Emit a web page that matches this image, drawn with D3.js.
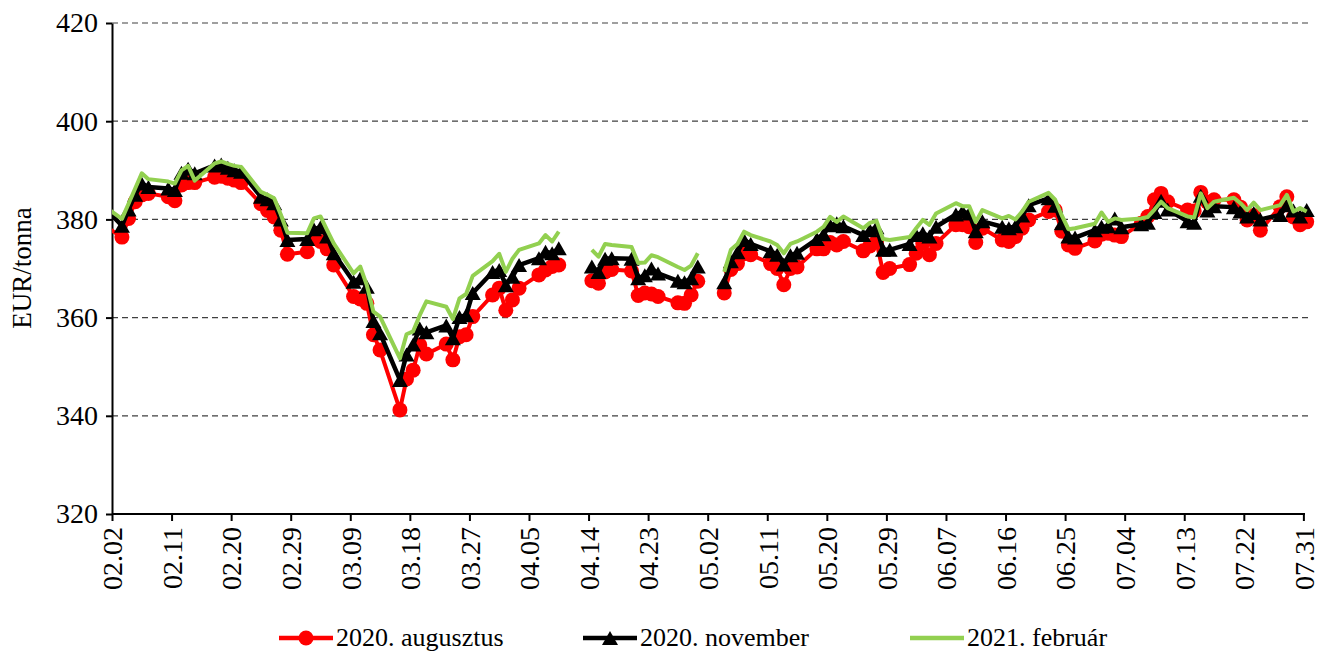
<!DOCTYPE html>
<html>
<head>
<meta charset="utf-8">
<script src="https://cdn.jsdelivr.net/npm/d3@7"></script>
<style>
  html, body { margin: 0; padding: 0; background: #fff; overflow: hidden; }
  text { font-family: "Liberation Serif", "Times New Roman", "DejaVu Serif", serif; fill: #000; }
</style>
</head>
<body>
<script>
'use strict';

// trading days (2020), holidays kept as empty cells so the lines break there
const dates = [
  '01.31',
  '02.03', '02.04', '02.05', '02.06', '02.07', '02.10', '02.11', '02.12', '02.13', '02.14',
  '02.17', '02.18', '02.19', '02.20', '02.21', '02.24', '02.25', '02.26', '02.27', '02.28',
  '03.02', '03.03', '03.04', '03.05', '03.06', '03.09', '03.10', '03.11', '03.12', '03.13',
  '03.16', '03.17', '03.18', '03.19', '03.20', '03.23', '03.24', '03.25', '03.26', '03.27',
  '03.30', '03.31',
  '04.01', '04.02', '04.03', '04.06', '04.07', '04.08', '04.09', '04.10', '04.13', '04.14',
  '04.15', '04.16', '04.17', '04.20', '04.21', '04.22', '04.23', '04.24', '04.27', '04.28',
  '04.29', '04.30',
  '05.01', '05.04', '05.05', '05.06', '05.07', '05.08', '05.11', '05.12', '05.13', '05.14',
  '05.15', '05.18', '05.19', '05.20', '05.21', '05.22', '05.25', '05.26', '05.27', '05.28',
  '05.29',
  '06.01', '06.02', '06.03', '06.04', '06.05', '06.08', '06.09', '06.10', '06.11', '06.12',
  '06.15', '06.16', '06.17', '06.18', '06.19', '06.22', '06.23', '06.24', '06.25', '06.26',
  '06.29', '06.30',
  '07.01', '07.02', '07.03', '07.06', '07.07', '07.08', '07.09', '07.10', '07.13', '07.14',
  '07.15', '07.16', '07.17', '07.20', '07.21', '07.22', '07.23', '07.24', '07.27', '07.28',
  '07.29', '07.30', '07.31'
];

// 2020. augusztus
const aug20 = [
  379.0,
  376.4, 380.2, 383.6, 385.0, 385.3, 384.6, 383.8, 387.0, 387.5, 387.5,
  388.6, 388.8, 388.4, 388.0, 387.5, 383.2, 381.8, 380.5, 377.8, 372.9,
  373.4, 376.3, 375.5, 374.0, 370.7, 364.3, 363.8, 362.9, 356.5, 353.4,
  341.2, 347.5, 349.3, 354.4, 352.6, 354.6, 351.4, 356.1, 356.5, 360.2,
  364.6, 366.0,
  361.5, 363.6, 366.0, 368.7, 369.7, 370.4, 370.7, null, null, 367.5,
  367.0, 369.3, 369.8, 369.5, 364.5, 365.0, 364.8, 364.3, 363.0, 362.9,
  364.6, 367.4,
  null, 365.0, 369.8, 371.0, 373.0, 372.8, 371.0, 370.0, 366.7, 370.0,
  370.3, 374.0, 374.0, 375.3, 374.8, 375.5, 373.6, 374.6, 375.5, 369.2,
  370.0,
  370.8, 373.1, 375.1, 372.8, 375.1, 378.9, 378.9, 378.5, 375.3, 378.2,
  375.8, 375.5, 376.5, 378.2, 379.9, 381.6, 381.9, 377.6, 374.8, 374.1,
  375.6, 377.0,
  377.2, 376.8, 376.5, 379.2, 380.6, 384.0, 385.3, 383.6, 381.9, 381.7,
  385.5, 383.5, 384.0, 384.0, 382.5, 379.9, 380.8, 377.8, 382.6, 384.6,
  380.5, 378.9, 379.5
];

// 2020. november
const nov20 = [
  383.0,
  378.7, 382.0, 385.0, 387.3, 386.6, 386.3, 386.0, 389.5, 390.3, 389.4,
  391.0, 391.2, 390.5, 390.0, 389.7, 384.6, 384.1, 383.3, 380.0, 375.8,
  376.0, 378.0, 378.4, 376.5, 373.1, 367.3, 368.0, 366.3, 359.3, 356.8,
  347.3, 352.5, 354.5, 357.8, 357.0, 358.4, 355.8, 360.1, 360.5, 365.0,
  369.3, 369.7,
  366.6, 368.3, 370.7, 372.1, 373.4, 373.1, 374.1, null, null, 370.4,
  369.3, 372.0, 372.1, 372.0, 368.0, 368.6, 370.0, 369.0, 367.5, 367.2,
  368.0, 370.4,
  null, 367.2, 371.5, 373.3, 375.8, 375.0, 373.5, 372.8, 370.8, 372.7,
  373.2, 376.0, 377.0, 378.8, 379.2, 378.6, 376.8, 377.8, 378.4, 373.8,
  373.8,
  375.0, 376.8, 377.2, 376.5, 378.5, 381.0, 381.6, 381.2, 377.6, 379.6,
  378.5, 378.2, 378.6, 380.8, 382.9, 384.3, 382.8, 379.2, 376.5, 376.3,
  377.8, 378.5,
  378.6, 380.2, 378.4, 379.0, 379.3, 381.5, 383.8, 382.0, 379.6, 379.3,
  384.8, 381.8, 382.7, 382.5, 381.6, 380.6, 381.3, 380.0, 380.9, 382.9,
  381.8, 380.6, 381.9
];

// 2021. február
const feb21 = [
  383.0,
  380.1, 383.2, 386.3, 389.4, 388.2, 387.7, 387.3, 390.0, 390.9, 387.9,
  391.4, 391.8, 391.3, 390.9, 390.7, 385.6, 385.0, 384.3, 381.0, 377.3,
  377.2, 380.2, 380.6, 377.8, 375.1, 369.0, 370.4, 366.6, 361.2, 360.2,
  351.7, 356.6, 357.2, 360.5, 363.3, 362.2, 359.7, 363.9, 364.8, 368.5,
  371.5, 373.0,
  369.3, 372.0, 373.8, 375.1, 376.8, 375.5, 377.5, null, null, 373.8,
  372.4, 375.0, 374.8, 374.4, 371.1, 371.2, 372.7, 372.3, 370.3, 369.7,
  370.6, 373.1,
  null, 369.3, 373.8, 375.0, 377.5, 376.8, 375.5, 374.8, 373.1, 375.0,
  375.5, 377.5, 378.5, 380.5, 379.5, 380.6, 378.2, 379.3, 379.7, 376.0,
  375.8,
  376.4, 378.2, 379.9, 378.9, 381.2, 383.3, 382.7, 382.7, 379.5, 381.9,
  380.2, 380.7, 380.0, 381.6, 383.6, 385.4, 384.0, 380.8, 378.0, 378.2,
  379.1, 381.4,
  379.5, 380.2, 379.9, 380.2, 380.5, 382.0, 383.6, 382.3, 380.6, 380.4,
  385.3, 382.3, 383.6, 384.4, 383.3, 381.9, 383.4, 381.9, 382.9, 385.0,
  381.6, 382.3, 381.6
];

const xTickLabels = ['02.02', '02.11', '02.20', '02.29', '03.09', '03.18', '03.27', '04.05',
  '04.14', '04.23', '05.02', '05.11', '05.20', '05.29', '06.07', '06.16', '06.25', '07.04',
  '07.13', '07.22', '07.31'];
const yTicks = [320, 340, 360, 380, 400, 420];

const seriesNames = ['2020. augusztus', '2020. november', '2021. február'];

const W = 1319, H = 654;
const plot = { left: 112, top: 23, right: 1310, bottom: 514 };
const serif = '"Liberation Serif", "Times New Roman", "DejaVu Serif", serif';

const parse = d3.timeParse('%Y.%m.%d');
const toDate = s => parse('2020.' + s);

const svg = d3.select('body').append('svg').attr('width', W).attr('height', H);

const x = d3.scaleTime()
    .domain([toDate('02.02'), toDate('08.01')])
    .range([plot.left, plot.right]);
const y = d3.scaleLinear().domain([320, 420]).range([plot.bottom, plot.top]);

// points sit in the middle of their day
const px = s => x(d3.timeHour.offset(toDate(s), 12));

// grid
svg.append('g').selectAll('line').data(yTicks.filter(v => v > 320)).enter().append('line')
    .attr('x1', plot.left).attr('x2', plot.right)
    .attr('y1', d => y(d)).attr('y2', d => y(d))
    .attr('stroke', '#404040').attr('stroke-width', 1.2).attr('stroke-dasharray', '6,4');

// y axis
const yAxis = svg.append('g').attr('transform', `translate(${plot.left},0)`)
    .call(d3.axisLeft(y).tickValues(yTicks).tickSize(6).tickSizeOuter(0).tickPadding(8));
yAxis.attr('font-family', serif);
yAxis.select('.domain').attr('stroke', '#000').attr('stroke-width', 2);
yAxis.selectAll('.tick line').attr('stroke', '#000').attr('stroke-width', 2);
yAxis.selectAll('.tick text').style('font-size', '28px').style('font-family', serif).attr('fill', '#000');

// x axis
const xAxis = svg.append('g').attr('transform', `translate(0,${plot.bottom})`)
    .call(d3.axisBottom(x).tickValues(xTickLabels.map(toDate)).tickSize(7).tickSizeOuter(0)
        .tickFormat(d3.timeFormat('%m.%d')));
xAxis.attr('font-family', serif);
xAxis.select('.domain').remove();
xAxis.append('line').attr('x1', plot.left).attr('x2', 1305).attr('y1', 0).attr('y2', 0)
    .attr('stroke', '#000').attr('stroke-width', 2);
xAxis.selectAll('.tick line').attr('stroke', '#000').attr('stroke-width', 2);
xAxis.selectAll('.tick text')
    .style('font-size', '28px').style('font-family', serif).attr('fill', '#000')
    .attr('transform', 'rotate(-90)')
    .attr('text-anchor', 'end')
    .attr('x', -13).attr('y', 0).attr('dy', '0.35em');

// y title
svg.append('text')
    .attr('transform', 'translate(31,268) rotate(-90)')
    .attr('text-anchor', 'middle')
    .style('font-size', '27px')
    .text('EUR/tonna');

// clip everything left of the axis
svg.append('clipPath').attr('id', 'plotclip').append('rect')
    .attr('x', plot.left).attr('y', 0).attr('width', W - plot.left).attr('height', H);
const plotg = svg.append('g').attr('clip-path', 'url(#plotclip)');

const triPath = 'M0,-7 L8,7 L-8,7 Z';

const series = [
  { name: seriesNames[0], values: aug20, color: '#FF0000', width: 4, marker: 'circle' },
  { name: seriesNames[1], values: nov20, color: '#000000', width: 4.5, marker: 'triangle' },
  { name: seriesNames[2], values: feb21, color: '#92D050', width: 4, marker: null }
];

const line = d3.line()
    .defined(d => d.v !== null)
    .x(d => px(d.date))
    .y(d => y(d.v));

series.forEach(s => {
  const pts = dates.map((d, i) => ({ date: d, v: s.values[i] }));
  plotg.append('path')
      .datum(pts)
      .attr('fill', 'none')
      .attr('stroke', s.color)
      .attr('stroke-width', s.width)
      .attr('stroke-linejoin', 'round')
      .attr('d', line);
  const valid = pts.filter(d => d.v !== null);
  if (s.marker === 'circle') {
    plotg.append('g').selectAll('circle').data(valid).enter().append('circle')
        .attr('cx', d => px(d.date)).attr('cy', d => y(d.v)).attr('r', 7.5)
        .attr('fill', s.color);
  } else if (s.marker === 'triangle') {
    plotg.append('g').selectAll('path').data(valid).enter().append('path')
        .attr('d', triPath)
        .attr('transform', d => `translate(${px(d.date)},${y(d.v)})`)
        .attr('fill', s.color);
  }
});

// legend
const legendX = [279, 583, 910];
const legendY = 638;
const lg = svg.append('g');
series.forEach((s, i) => {
  const g = lg.append('g').attr('transform', `translate(${legendX[i]},${legendY})`);
  g.append('line').attr('x1', 0).attr('x2', 54).attr('y1', 0).attr('y2', 0)
      .attr('stroke', s.color).attr('stroke-width', 4.5);
  if (s.marker === 'circle') {
    g.append('circle').attr('cx', 27).attr('cy', 0).attr('r', 7.5).attr('fill', s.color);
  } else if (s.marker === 'triangle') {
    g.append('path').attr('d', triPath).attr('transform', 'translate(27,0)').attr('fill', s.color);
  }
  g.append('text').attr('x', 57).attr('y', 0).attr('dy', '0.3em')
      .style('font-size', '26px').text(s.name);
});
</script>
</body>
</html>
